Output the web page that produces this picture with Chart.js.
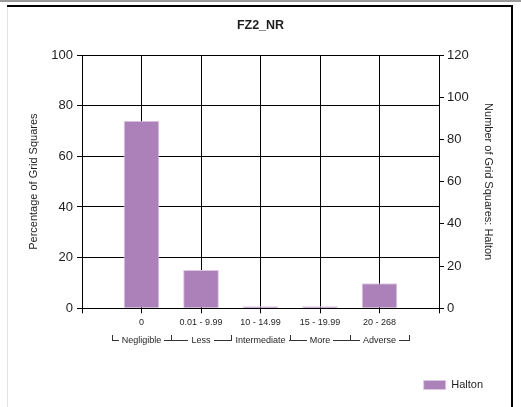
<!DOCTYPE html>
<html>
<head>
<meta charset="utf-8">
<script src="https://cdn.jsdelivr.net/npm/chart.js@4.4.0/dist/chart.umd.min.js"></script>
<style>
  html, body { margin: 0; padding: 0; background: #fff; overflow: hidden; }
  #wrap { width: 521px; height: 407px; }
</style>
</head>
<body>
<div id="wrap"><canvas id="chart" width="521" height="407"></canvas></div>
<script>
const chartTitle = 'FZ2_NR';
const categories = ['0', '0.01 - 9.99', '10 - 14.99', '15 - 19.99', '20 - 268'];
const groupLabels = ['Negligible', 'Less', 'Intermediate', 'More', 'Adverse'];
const seriesName = 'Halton';
const haltonPct = [74, 15.1, 0.8, 0.8, 9.9];
const leftAxisTitle = 'Percentage of Grid Squares';
const rightAxisTitle = 'Number of Grid Squares: Halton';
const leftMax = 100;
const rightMax = 120;
const tickStep = 20;

const FONT = "'Liberation Sans', Arial, sans-serif";
const TEXT = '#1e1e1e';

// empty slot at each end so the categories sit at 1..5 of a 0..6 axis
const xLabels = [''].concat(categories, ['']);
const xData = [null].concat(haltonPct, [null]);

// the outer frame of the original picture
const framePlugin = {
    id: 'frame',
    beforeDraw(chart) {
        const ctx = chart.ctx;
        ctx.save();
        ctx.fillStyle = '#fff';
        ctx.fillRect(0, 0, chart.width, chart.height);
        ctx.fillStyle = '#9a9a9a';
        ctx.fillRect(0, 0, chart.width, 2);
        ctx.fillStyle = '#e4e4e4';
        ctx.fillRect(7, 7, 1, chart.height);
        ctx.fillStyle = '#000';
        ctx.fillRect(7, 5, 506, 2);
        ctx.fillRect(511, 5, 2, chart.height);
        ctx.restore();
    }
};

// second row of x labels with bracket lines
const groupPlugin = {
    id: 'groups',
    afterDraw(chart) {
        const x = chart.scales.x;
        const ctx = chart.ctx;
        const yLine = 340;
        ctx.save();
        ctx.font = '9px ' + FONT;
        ctx.textAlign = 'center';
        ctx.textBaseline = 'middle';
        groupLabels.forEach((name, i) => {
            const l = Math.round(x.getPixelForValue(i + 0.5));
            const r = Math.round(x.getPixelForValue(i + 1.5));
            const mid = (l + r) / 2;
            const w = ctx.measureText(name).width;
            ctx.fillStyle = '#333';
            ctx.fillRect(l, yLine - 5, 1, 6);
            ctx.fillRect(r, yLine - 5, 1, 6);
            const t0 = Math.round(mid - w / 2 - 3);
            const t1 = Math.round(mid + w / 2 + 3);
            if (t0 > l) ctx.fillRect(l, yLine, t0 - l, 1);
            if (r > t1) ctx.fillRect(t1, yLine, r - t1 + 1, 1);
            ctx.fillStyle = TEXT;
            ctx.fillText(name, mid, yLine + 1);
        });
        ctx.restore();
    }
};

new Chart(document.getElementById('chart'), {
    type: 'bar',
    data: {
        labels: xLabels,
        datasets: [{
            label: seriesName,
            data: xData,
            backgroundColor: '#ac80b9',
            borderColor: '#dcc8e2',
            borderWidth: 1,
            categoryPercentage: 1,
            barPercentage: 0.6,
            yAxisID: 'y'
        }]
    },
    plugins: [framePlugin, groupPlugin],
    options: {
        responsive: false,
        animation: false,
        events: [],
        layout: { padding: { left: 0, right: 0, top: 0, bottom: 6.5 } },
        plugins: {
            title: {
                display: true,
                text: chartTitle,
                color: TEXT,
                font: { family: FONT, size: 12.5, weight: 'bold' },
                padding: { top: 18, bottom: 22 }
            },
            legend: {
                display: true,
                position: 'bottom',
                align: 'end',
                labels: {
                    color: TEXT,
                    font: { family: FONT, size: 11 },
                    boxWidth: 22,
                    boxHeight: 9,
                    padding: 38
                }
            },
            tooltip: { enabled: false }
        },
        scales: {
            x: {
                type: 'category',
                offset: false,
                grid: { offset: false, color: '#000', lineWidth: 1, tickLength: 5, drawTicks: true },
                border: { color: '#000', width: 1 },
                ticks: {
                    color: TEXT,
                    font: { family: FONT, size: 9 },
                    padding: 4,
                    maxRotation: 0,
                    autoSkip: false
                },
                afterFit(scale) { scale.height = 33.2; }
            },
            y: {
                position: 'left',
                min: 0,
                max: leftMax,
                grid: { color: '#000', lineWidth: 1, tickLength: 5 },
                border: { color: '#000', width: 1 },
                ticks: {
                    stepSize: tickStep,
                    color: TEXT,
                    font: { family: FONT, size: 13 },
                    padding: 4
                },
                title: {
                    display: true,
                    text: leftAxisTitle,
                    color: TEXT,
                    font: { family: FONT, size: 11 },
                    padding: { top: 27.4, bottom: 0 }
                },
                afterFit(scale) { scale.width = 82; }
            },
            y1: {
                position: 'right',
                min: 0,
                max: rightMax,
                grid: { drawOnChartArea: false, color: '#000', tickLength: 5 },
                border: { color: '#000', width: 1 },
                ticks: {
                    stepSize: tickStep,
                    color: TEXT,
                    font: { family: FONT, size: 13 },
                    padding: 3
                },
                title: {
                    display: true,
                    text: rightAxisTitle,
                    color: TEXT,
                    font: { family: FONT, size: 11 },
                    padding: { top: 26.4, bottom: 0 }
                },
                afterFit(scale) { scale.width = 82; }
            }
        }
    }
});
</script>
</body>
</html>
